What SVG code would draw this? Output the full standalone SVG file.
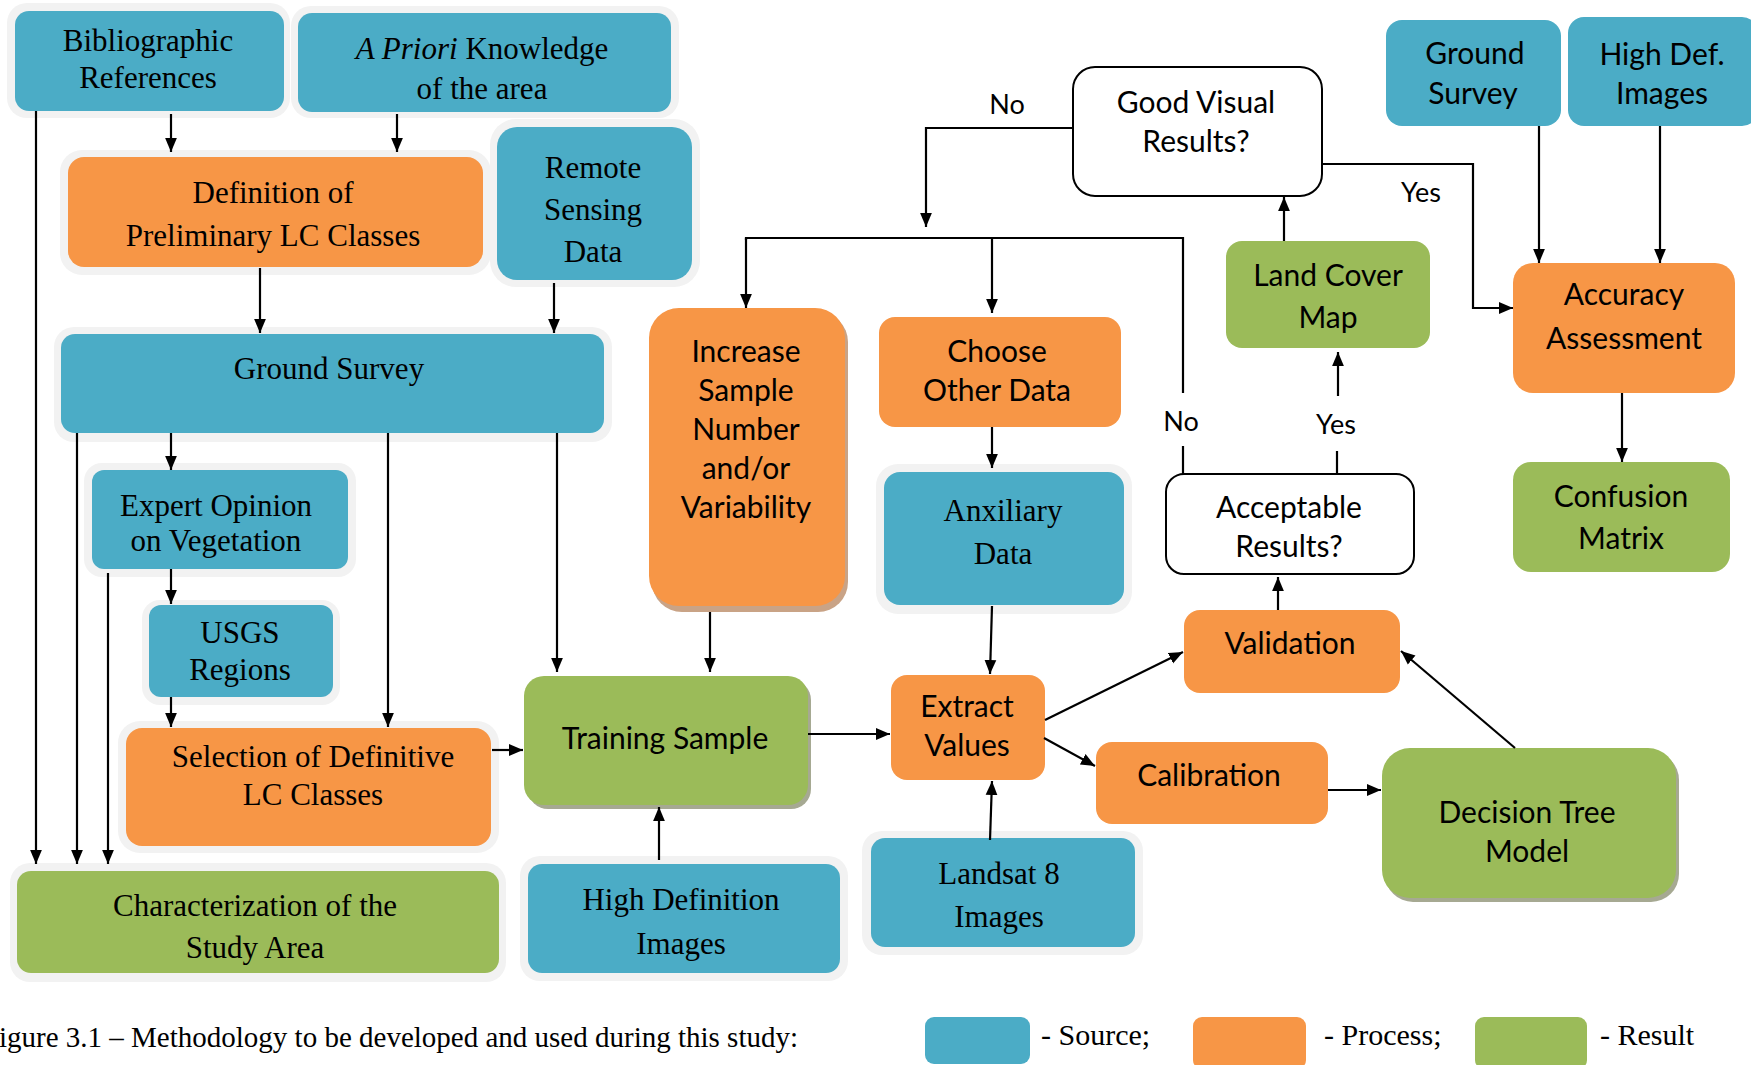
<svg xmlns="http://www.w3.org/2000/svg" width="1751" height="1065" viewBox="0 0 1751 1065">
<style>
.src{fill:#4BACC6}
.proc{fill:#F79646}
.res{fill:#9BBB59}
.halo{fill:#F2F2F2}
.dec{fill:#FFFFFF;stroke:#000;stroke-width:2}
.shg{fill:#A6A992}
.sho{fill:#C9A386}
.serif{font-family:"Liberation Serif","Times New Roman",serif;font-size:31px;text-anchor:middle;fill:#000}
.sans{font-family:Lato,"Liberation Sans",sans-serif;font-size:30px;text-anchor:middle;fill:#000}
.lbl{font-family:Lato,"Liberation Sans",sans-serif;font-size:27px;text-anchor:middle;fill:#000}
.leg{font-family:"Liberation Serif","Times New Roman",serif;font-size:30px;fill:#000}
.cap{font-family:"Liberation Serif","Times New Roman",serif;font-size:29px;fill:#000}
.conn path{stroke:#000;stroke-width:2.2;fill:none}
.conn path.a{marker-end:url(#ah)}
</style>
<defs>
<marker id="ah" viewBox="0 0 10 10" refX="10" refY="5" markerWidth="14" markerHeight="14" markerUnits="userSpaceOnUse" orient="auto">
<path d="M0,0.8 L10,5 L0,9.2 z" fill="#000"/>
</marker>
</defs>
<rect width="1751" height="1065" fill="#FFFFFF"/>

<g id="bibliographic">
<rect class="halo" x="7" y="3" width="283" height="115" rx="20"/>
<rect class="src" x="15" y="11" width="269" height="100" rx="14"/>
<text class="serif" x="148" y="51">Bibliographic</text>
<text class="serif" x="148" y="88">References</text>
</g>
<g id="apriori">
<rect class="halo" x="291" y="6" width="388" height="112" rx="20"/>
<rect class="src" x="298" y="13" width="373" height="99" rx="14"/>
<text class="serif" x="482" y="59"><tspan font-style="italic">A Priori</tspan> Knowledge</text>
<text class="serif" x="482" y="99">of the area</text>
</g>
<g id="definition">
<rect class="halo" x="60" y="150" width="431" height="125" rx="22"/>
<rect class="proc" x="68" y="157" width="415" height="110" rx="16"/>
<text class="serif" x="273" y="203">Definition of</text>
<text class="serif" x="273" y="246">Preliminary LC Classes</text>
</g>
<g id="remote">
<rect class="halo" x="490" y="119" width="210" height="168" rx="26"/>
<rect class="src" x="497" y="127" width="195" height="153" rx="20"/>
<text class="serif" x="593" y="178">Remote</text>
<text class="serif" x="593" y="220">Sensing</text>
<text class="serif" x="593" y="262">Data</text>
</g>
<g id="groundsurvey-left">
<rect class="halo" x="54" y="327" width="558" height="115" rx="20"/>
<rect class="src" x="61" y="334" width="543" height="99" rx="14"/>
<text class="serif" x="329" y="379">Ground Survey</text>
</g>
<g id="expert">
<rect class="halo" x="84" y="463" width="272" height="114" rx="18"/>
<rect class="src" x="92" y="470" width="256" height="99" rx="12"/>
<text class="serif" x="216" y="516">Expert Opinion</text>
<text class="serif" x="216" y="551">on Vegetation</text>
</g>
<g id="usgs">
<rect class="halo" x="142" y="600" width="198" height="105" rx="18"/>
<rect class="src" x="149" y="605" width="184" height="92" rx="12"/>
<text class="serif" x="240" y="643">USGS</text>
<text class="serif" x="240" y="680">Regions</text>
</g>
<g id="selection">
<rect class="halo" x="118" y="721" width="381" height="132" rx="22"/>
<rect class="proc" x="126" y="728" width="365" height="118" rx="16"/>
<text class="serif" x="313" y="767">Selection of Definitive</text>
<text class="serif" x="313" y="805">LC Classes</text>
</g>
<g id="characterization">
<rect class="halo" x="10" y="863" width="496" height="119" rx="20"/>
<rect class="res" x="17" y="871" width="482" height="102" rx="14"/>
<text class="serif" x="255" y="916">Characterization of the</text>
<text class="serif" x="255" y="958">Study Area</text>
</g>
<g id="training">
<rect class="shg" x="528" y="680" width="283" height="129" rx="20"/>
<rect class="res" x="524" y="676" width="284" height="129" rx="20"/>
<text class="sans" x="665" y="749">Training Sample</text>
</g>
<g id="highdef">
<rect class="halo" x="520" y="856" width="328" height="125" rx="20"/>
<rect class="src" x="528" y="864" width="312" height="109" rx="14"/>
<text class="serif" x="681" y="910">High Definition</text>
<text class="serif" x="681" y="954">Images</text>
</g>
<g id="increase">
<rect class="sho" x="652" y="312" width="196" height="300" rx="30"/>
<rect class="proc" x="649" y="308" width="196" height="298" rx="30"/>
<text class="sans" x="746" y="362">Increase</text>
<text class="sans" x="746" y="401">Sample</text>
<text class="sans" x="746" y="440">Number</text>
<text class="sans" x="746" y="479">and/or</text>
<text class="sans" x="746" y="518">Variability</text>
</g>
<g id="choose">
<rect class="proc" x="879" y="317" width="242" height="110" rx="16"/>
<text class="sans" x="997" y="362">Choose</text>
<text class="sans" x="997" y="401">Other Data</text>
</g>
<g id="anxiliary">
<rect class="halo" x="876" y="464" width="256" height="150" rx="22"/>
<rect class="src" x="884" y="472" width="240" height="133" rx="16"/>
<text class="serif" x="1003" y="521">Anxiliary</text>
<text class="serif" x="1003" y="564">Data</text>
</g>
<g id="extract">
<rect class="proc" x="891" y="675" width="154" height="105" rx="16"/>
<text class="sans" x="967" y="717">Extract</text>
<text class="sans" x="967" y="756">Values</text>
</g>
<g id="landsat">
<rect class="halo" x="862" y="831" width="281" height="124" rx="20"/>
<rect class="src" x="871" y="838" width="264" height="109" rx="14"/>
<text class="serif" x="999" y="884">Landsat 8</text>
<text class="serif" x="999" y="927">Images</text>
</g>
<g id="goodvisual">
<rect class="dec" x="1073" y="67" width="249" height="129" rx="22"/>
<text class="sans" x="1196" y="113">Good Visual</text>
<text class="sans" x="1196" y="152">Results?</text>
</g>
<g id="landcover">
<rect class="res" x="1226" y="241" width="204" height="107" rx="16"/>
<text class="sans" x="1328" y="286">Land Cover</text>
<text class="sans" x="1328" y="328">Map</text>
</g>
<g id="acceptable">
<rect class="dec" x="1166" y="474" width="248" height="100" rx="18"/>
<text class="sans" x="1289" y="518">Acceptable</text>
<text class="sans" x="1289" y="557">Results?</text>
</g>
<g id="validation">
<rect class="proc" x="1184" y="610" width="216" height="83" rx="16"/>
<text class="sans" x="1290" y="654">Validation</text>
</g>
<g id="calibration">
<rect class="proc" x="1096" y="742" width="232" height="82" rx="16"/>
<text class="sans" x="1209" y="786">Calibration</text>
</g>
<g id="decisiontree">
<rect class="shg" x="1385" y="752" width="294" height="150" rx="28"/>
<rect class="res" x="1382" y="748" width="294" height="150" rx="28"/>
<text class="sans" x="1527" y="823">Decision Tree</text>
<text class="sans" x="1527" y="862">Model</text>
</g>
<g id="groundsurvey-right">
<rect class="src" x="1386" y="20" width="175" height="106" rx="16"/>
<text class="sans" x="1475" y="64">Ground</text>
<text class="sans" x="1473" y="104">Survey</text>
</g>
<g id="highdef-right">
<rect class="src" x="1568" y="17" width="190" height="109" rx="16"/>
<text class="sans" x="1662" y="65">High Def.</text>
<text class="sans" x="1662" y="104">Images</text>
</g>
<g id="accuracy">
<rect class="proc" x="1513" y="263" width="222" height="130" rx="20"/>
<text class="sans" x="1624" y="305">Accuracy</text>
<text class="sans" x="1624" y="349">Assessment</text>
</g>
<g id="confusion">
<rect class="res" x="1513" y="462" width="217" height="110" rx="18"/>
<text class="sans" x="1621" y="507">Confusion</text>
<text class="sans" x="1621" y="549">Matrix</text>
</g>

<g id="connectors" class="conn">
<path class="a" d="M171,114 V152"/>
<path class="a" d="M397,114 V152"/>
<path class="a" d="M260,268 V333"/>
<path class="a" d="M554,283 V333"/>
<path class="a" d="M36,111 V864"/>
<path class="a" d="M77,433 V864"/>
<path class="a" d="M108,573 V864"/>
<path class="a" d="M171,433 V470"/>
<path class="a" d="M171,569 V604"/>
<path class="a" d="M171,697 V727"/>
<path class="a" d="M388,433 V727"/>
<path class="a" d="M557,433 V672"/>
<path class="a" d="M492,750 H523"/>
<path class="a" d="M710,612 V672"/>
<path class="a" d="M659,860 V807"/>
<path class="a" d="M808,734 H890"/>
<path class="a" d="M992,427 V468"/>
<path class="a" d="M992,606 L990,674"/>
<path class="a" d="M990,840 L992,781"/>
<path class="a" d="M1045,720 L1183,652"/>
<path class="a" d="M1044,738 L1095,766"/>
<path class="a" d="M1328,790 H1381"/>
<path class="a" d="M1515,748 L1401,651"/>
<path class="a" d="M1278,610 V577"/>
<path d="M1337,474 V451"/>
<path class="a" d="M1338,396 V352"/>
<path class="a" d="M1284,241 V197"/>
<path class="a" d="M1322,164 H1473 V308 H1513"/>
<path class="a" d="M1539,126 V263"/>
<path class="a" d="M1660,126 V263"/>
<path class="a" d="M1622,393 V462"/>
<path class="a" d="M1073,128 H926 V227"/>
<path d="M1183,474 V446"/>
<path d="M1183,393 V238 H746 V240"/>
<path class="a" d="M746,238 V308"/>
<path class="a" d="M992,238 V313"/>
<text class="lbl" x="1007" y="114">No</text>
<text class="lbl" x="1421" y="202">Yes</text>
<text class="lbl" x="1181" y="431">No</text>
<text class="lbl" x="1336" y="434">Yes</text>
</g>

<g id="legend">
<rect class="src" x="925" y="1017" width="105" height="47" rx="9"/>
<text class="leg" x="1041" y="1045">- Source;</text>
<rect class="proc" x="1193" y="1017" width="113" height="52" rx="9"/>
<text class="leg" x="1324" y="1045">- Process;</text>
<rect class="res" x="1475" y="1017" width="112" height="52" rx="9"/>
<text class="leg" x="1600" y="1045">- Result</text>
<text class="cap" x="-1" y="1047">igure 3.1 – Methodology to be developed and used during this study:</text>
</g>
</svg>
